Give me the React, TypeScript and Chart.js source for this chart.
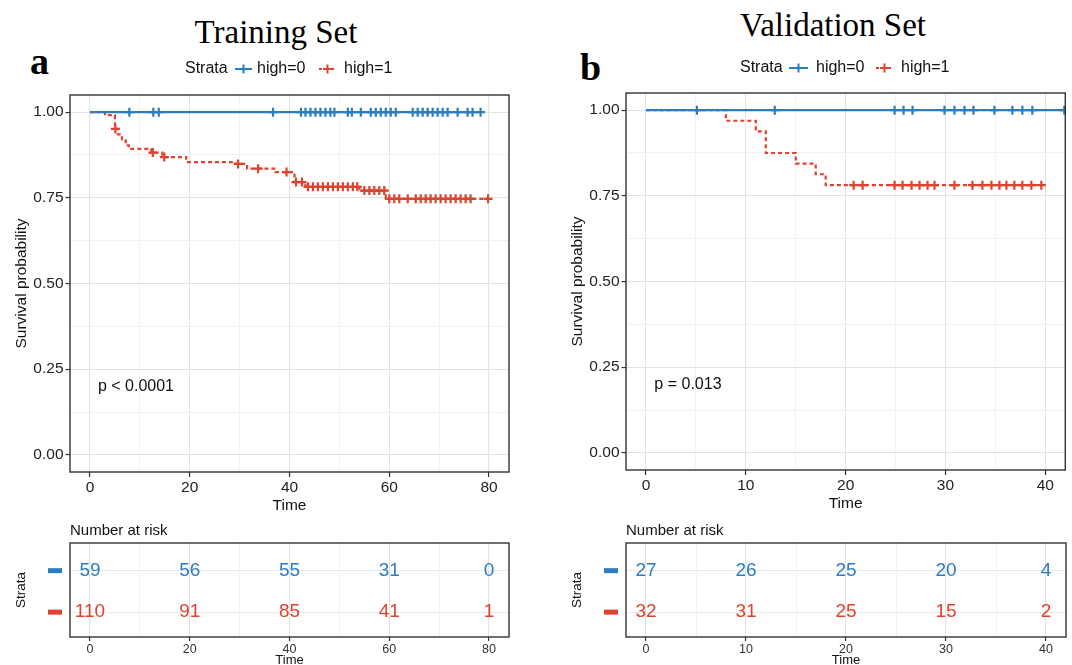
import React, { useEffect, useRef } from 'react';
import { Chart, registerables } from 'chart.js';

Chart.register(...registerables);

const BLUE = '#2C7CC0';
const RED = '#DD432E';
const FONT = "'Liberation Sans', Arial, sans-serif";

// ---------- axis ticks ----------
const survTicks = [0, 0.25, 0.5, 0.75, 1];
const survMinorTicks = [0.125, 0.375, 0.625, 0.875];
const trainTimeTicks = [0, 20, 40, 60, 80];
const trainTimeMinor = [10, 30, 50, 70];
const validTimeTicks = [0, 10, 20, 30, 40];
const validTimeMinor = [5, 15, 25, 35];

// ---------- Training set: Kaplan-Meier ----------
const trainHigh0StepTimes = [0];
const trainHigh0StepSurv = [1];
const trainHigh0End = 78.3;
const trainHigh0Censor = [7.9, 12.7, 13.8, 36.7, 42.3, 43.2, 44.2, 45.2, 46.2, 47.2, 48.2, 49.0, 51.7, 52.5, 54.3, 56.3, 57.3, 58.3, 59.3, 60.3, 61.3, 64.7, 65.7, 66.7, 67.7, 68.7, 69.7, 70.7, 71.7, 73.7, 75.7, 76.7, 78.3];

const trainHigh1StepTimes = [0, 3.0, 5.0, 5.6, 6.4, 7.2, 7.8, 12.3, 14.5, 19.3, 29.2, 31.5, 37.2, 41.0, 43.2, 54.0, 59.3];
const trainHigh1StepSurv = [1, 0.991, 0.951, 0.935, 0.917, 0.903, 0.893, 0.882, 0.869, 0.854, 0.849, 0.835, 0.825, 0.796, 0.782, 0.771, 0.747];
const trainHigh1End = 79.8;
const trainHigh1Censor = [5.1, 12.6, 14.9, 29.7, 33.7, 39.4, 41.3, 42.5, 43.7, 44.7, 45.7, 46.7, 47.7, 48.7, 49.7, 50.7, 51.7, 52.7, 53.6, 55, 56, 57, 58, 59, 60, 61, 62, 63.7, 65.3, 66.3, 67.3, 68.3, 69.3, 70.3, 71.3, 72.3, 73.3, 74.3, 75.3, 76.3, 79.8];

// ---------- Validation set: Kaplan-Meier ----------
const validHigh0StepTimes = [0];
const validHigh0StepSurv = [1];
const validHigh0End = 42;
const validHigh0Censor = [5.1, 12.9, 24.9, 25.8, 26.7, 29.9, 30.9, 31.9, 32.8, 34.9, 36.7, 37.7, 38.7, 41.9];

const validHigh1StepTimes = [0, 8, 11, 12, 15, 17, 18];
const validHigh1StepSurv = [1, 0.969, 0.938, 0.875, 0.844, 0.813, 0.781];
const validHigh1End = 39.6;
const validHigh1Censor = [20.8, 21.7, 24.9, 25.7, 26.6, 27.4, 28.2, 28.9, 30.9, 32.7, 33.7, 34.6, 35.4, 36.1, 36.9, 37.7, 38.6, 39.6];

// ---------- Number at risk ----------
const trainRiskTimes = [0, 20, 40, 60, 80];
const trainRiskHigh0 = [59, 56, 55, 31, 0];
const trainRiskHigh1 = [110, 91, 85, 41, 1];
const validRiskTimes = [0, 10, 20, 30, 40];
const validRiskHigh0 = [27, 26, 25, 20, 4];
const validRiskHigh1 = [32, 31, 25, 15, 2];

// ---------- helpers ----------
function stepLine(times: number[], surv: number[], end: number) {
  const pts = times.map((t, i) => ({ x: t, y: surv[i] }));
  pts.push({ x: end, y: surv[surv.length - 1] });
  return pts;
}
function censorMarks(censor: number[], times: number[], surv: number[]) {
  return censor.map((t) => {
    let s = surv[0];
    for (let i = 0; i < times.length; i++) if (times[i] <= t) s = surv[i];
    return { x: t, y: s };
  });
}
function isIn(arr: number[], v: number) {
  return arr.some((a) => Math.abs(a - v) < 1e-9);
}
function gridOpts(majors: number[]) {
  return {
    color: (c: any) => (c.tick && isIn(majors, c.tick.value) ? '#e2e2e2' : '#efefef'),
    lineWidth: (c: any) => (c.tick && isIn(majors, c.tick.value) ? 1.1 : 0.8),
    tickColor: (c: any) => (c.tick && isIn(majors, c.tick.value) ? '#333' : 'rgba(0,0,0,0)'),
    tickLength: 5,
    tickWidth: 1.2,
  };
}
function drawCross(ctx: CanvasRenderingContext2D, x: number, y: number, r: number, color: string) {
  ctx.save();
  ctx.strokeStyle = color;
  ctx.lineWidth = 2;
  ctx.setLineDash([]);
  ctx.beginPath();
  ctx.moveTo(x - r, y);
  ctx.lineTo(x + r, y);
  ctx.moveTo(x, y - r);
  ctx.lineTo(x, y + r);
  ctx.stroke();
  ctx.restore();
}

type KMParams = {
  h0: { times: number[]; surv: number[]; end: number; censor: number[] };
  h1: { times: number[]; surv: number[]; end: number; censor: number[] };
  majors: number[];
  minors: number[];
  xMin: number;
  xMax: number;
  padTop: number;
  padRight: number;
  pText: string;
  pX: number;
  legendY: number;
  legendX: { strata: number; k0: [number, number]; t0: number; k1: [number, number]; t1: number };
};

function kmConfig(p: KMParams): any {
  const decor = {
    id: 'kmDecor',
    afterDatasetsDraw(chart: any) {
      const { ctx, chartArea: a, scales } = chart;
      ctx.save();
      ctx.strokeStyle = '#333';
      ctx.lineWidth = 1.4;
      ctx.strokeRect(a.left, a.top, a.right - a.left, a.bottom - a.top);
      ctx.fillStyle = '#111';
      ctx.font = `16px ${FONT}`;
      ctx.textBaseline = 'middle';
      ctx.textAlign = 'left';
      ctx.fillText(p.pText, scales.x.getPixelForValue(p.pX), scales.y.getPixelForValue(0.2));
      // legend
      const ly = p.legendY;
      const L = p.legendX;
      ctx.fillText('Strata', L.strata, ly);
      ctx.fillText('high=0', L.t0, ly);
      ctx.fillText('high=1', L.t1, ly);
      ctx.lineWidth = 2;
      ctx.strokeStyle = BLUE;
      ctx.beginPath();
      ctx.moveTo(L.k0[0], ly);
      ctx.lineTo(L.k0[1], ly);
      ctx.stroke();
      drawCross(ctx, (L.k0[0] + L.k0[1]) / 2, ly, 4.5, BLUE);
      ctx.strokeStyle = RED;
      ctx.setLineDash([3, 3]);
      ctx.beginPath();
      ctx.moveTo(L.k1[0], ly);
      ctx.lineTo(L.k1[1], ly);
      ctx.stroke();
      ctx.setLineDash([]);
      drawCross(ctx, (L.k1[0] + L.k1[1]) / 2, ly, 4.5, RED);
      ctx.restore();
    },
  };
  const xTicks = [...p.majors, ...p.minors].sort((a, b) => a - b);
  const yTicks = [...survTicks, ...survMinorTicks].sort((a, b) => a - b);
  return {
    type: 'line',
    data: {
      datasets: [
        {
          label: 'high=0',
          data: stepLine(p.h0.times, p.h0.surv, p.h0.end),
          borderColor: BLUE,
          borderWidth: 2.2,
          stepped: true,
          pointRadius: 0,
          fill: false,
        },
        {
          label: 'high=1',
          data: stepLine(p.h1.times, p.h1.surv, p.h1.end),
          borderColor: RED,
          borderWidth: 2.2,
          borderDash: [4, 3],
          stepped: true,
          pointRadius: 0,
          fill: false,
        },
        {
          label: 'censor0',
          data: censorMarks(p.h0.censor, p.h0.times, p.h0.surv),
          showLine: false,
          pointStyle: 'cross',
          pointRadius: 4.5,
          pointBorderWidth: 2.2,
          borderColor: BLUE,
          backgroundColor: BLUE,
        },
        {
          label: 'censor1',
          data: censorMarks(p.h1.censor, p.h1.times, p.h1.surv),
          showLine: false,
          pointStyle: 'cross',
          pointRadius: 4.5,
          pointBorderWidth: 2.2,
          borderColor: RED,
          backgroundColor: RED,
        },
      ],
    },
    options: {
      animation: false,
      responsive: false,
      maintainAspectRatio: false,
      events: [],
      layout: { padding: { top: p.padTop, right: p.padRight, left: 0, bottom: 0 } },
      plugins: { legend: { display: false }, tooltip: { enabled: false } },
      scales: {
        x: {
          type: 'linear',
          min: p.xMin,
          max: p.xMax,
          afterBuildTicks: (s: any) => {
            s.ticks = xTicks.map((v) => ({ value: v }));
          },
          afterFit: (s: any) => {
            s.height = 43;
          },
          grid: gridOpts(p.majors),
          border: { display: false },
          ticks: {
            autoSkip: false,
            maxRotation: 0,
            padding: 1,
            color: '#222',
            font: { family: FONT, size: 15.5 },
            callback: (v: number) => (isIn(p.majors, v) ? String(v) : ''),
          },
          title: {
            display: true,
            text: 'Time',
            color: '#111',
            font: { family: FONT, size: 15.5 },
            padding: { top: 0, bottom: 0 },
          },
        },
        y: {
          type: 'linear',
          min: -0.05,
          max: 1.05,
          afterBuildTicks: (s: any) => {
            s.ticks = yTicks.map((v) => ({ value: v }));
          },
          afterFit: (s: any) => {
            s.width = 70;
          },
          grid: { ...gridOpts(survTicks), tickLength: 4.5 },
          border: { display: false },
          ticks: {
            autoSkip: false,
            padding: 2,
            color: '#222',
            font: { family: FONT, size: 15.5 },
            callback: (v: number) => (isIn(survTicks, v) ? v.toFixed(2) : ''),
          },
          title: {
            display: true,
            text: 'Survival probability',
            color: '#111',
            font: { family: FONT, size: 15.5 },
            padding: { top: 12.7, bottom: 0 },
          },
        },
      },
    },
    plugins: [decor],
  };
}

type RiskParams = {
  times: number[];
  high0: number[];
  high1: number[];
  majors: number[];
  minors: number[];
  xMin: number;
  xMax: number;
  padRight: number;
};

function riskConfig(p: RiskParams): any {
  const decor = {
    id: 'riskDecor',
    afterDatasetsDraw(chart: any) {
      const { ctx, chartArea: a, scales } = chart;
      ctx.save();
      ctx.strokeStyle = '#333';
      ctx.lineWidth = 1.4;
      ctx.strokeRect(a.left, a.top, a.right - a.left, a.bottom - a.top);
      ctx.textBaseline = 'middle';
      ctx.textAlign = 'center';
      ctx.font = `19px ${FONT}`;
      const rows: [number[], number, string][] = [
        [p.high0, 2, BLUE],
        [p.high1, 1, RED],
      ];
      rows.forEach(([vals, row, col]) => {
        ctx.fillStyle = col;
        const yPix = scales.y.getPixelForValue(row);
        vals.forEach((v, i) => {
          ctx.fillText(String(v), scales.x.getPixelForValue(p.times[i]), yPix);
        });
        ctx.fillRect(48, yPix - 2.5, 14, 5);
      });
      ctx.fillStyle = '#111';
      ctx.textAlign = 'left';
      ctx.font = `15px ${FONT}`;
      ctx.fillText('Number at risk', a.left, 15.5);
      ctx.restore();
    },
  };
  const xTicks = [...p.majors, ...p.minors].sort((a, b) => a - b);
  return {
    type: 'scatter',
    data: {
      datasets: [
        { label: 'high=0', data: p.times.map((t) => ({ x: t, y: 2 })), pointRadius: 0 },
        { label: 'high=1', data: p.times.map((t) => ({ x: t, y: 1 })), pointRadius: 0 },
      ],
    },
    options: {
      animation: false,
      responsive: false,
      maintainAspectRatio: false,
      events: [],
      layout: { padding: { top: 28, right: p.padRight, left: 0, bottom: 0 } },
      plugins: { legend: { display: false }, tooltip: { enabled: false } },
      scales: {
        x: {
          type: 'linear',
          min: p.xMin,
          max: p.xMax,
          afterBuildTicks: (s: any) => {
            s.ticks = xTicks.map((v) => ({ value: v }));
          },
          afterFit: (s: any) => {
            s.height = 31;
          },
          grid: { ...gridOpts(p.majors), tickLength: 4 },
          border: { display: false },
          ticks: {
            autoSkip: false,
            maxRotation: 0,
            padding: 1.5,
            color: '#333',
            font: { family: FONT, size: 12.5 },
            callback: (v: number) => (isIn(p.majors, v) ? String(v) : ''),
          },
          title: {
            display: true,
            text: 'Time',
            color: '#111',
            font: { family: FONT, size: 13 },
            padding: { top: 0, bottom: 0 },
          },
        },
        y: {
          type: 'linear',
          min: 0.4,
          max: 2.667,
          afterBuildTicks: (s: any) => {
            s.ticks = [1, 2].map((v) => ({ value: v }));
          },
          afterFit: (s: any) => {
            s.width = 70;
          },
          grid: { color: '#e8e8e8', lineWidth: 1, tickColor: 'rgba(0,0,0,0)', tickLength: 4 },
          border: { display: false },
          ticks: { callback: () => '' },
          title: {
            display: true,
            text: 'Strata',
            color: '#111',
            font: { family: FONT, size: 13.5 },
            padding: { top: 13, bottom: 0 },
          },
        },
      },
    },
    plugins: [decor],
  };
}

function ChartCanvas(props: { left: number; top: number; width: number; height: number; config: () => any }) {
  const ref = useRef<HTMLCanvasElement | null>(null);
  useEffect(() => {
    if (!ref.current) return;
    const chart = new Chart(ref.current, props.config());
    return () => chart.destroy();
  }, []);
  return (
    <canvas
      ref={ref}
      width={props.width}
      height={props.height}
      style={{ position: 'absolute', left: props.left, top: props.top, width: props.width, height: props.height }}
    />
  );
}

const serif = "'Liberation Serif', 'Times New Roman', serif";

export default function App() {
  return (
    <div
      style={{
        position: 'fixed',
        left: 0,
        top: 0,
        width: 1072,
        height: 665,
        overflow: 'hidden',
        background: '#ffffff',
      }}
    >
      <div style={{ position: 'absolute', left: 76, top: 16, width: 400, textAlign: 'center', fontFamily: serif, fontSize: 33, lineHeight: '33px', whiteSpace: 'nowrap', color: '#000' }}>
        Training Set
      </div>
      <div style={{ position: 'absolute', left: 633, top: 9, width: 400, textAlign: 'center', fontFamily: serif, fontSize: 33, lineHeight: '33px', whiteSpace: 'nowrap', color: '#000' }}>
        Validation Set
      </div>
      <div style={{ position: 'absolute', left: 30, top: 42, fontFamily: serif, fontWeight: 'bold', fontSize: 38, lineHeight: '38px', color: '#000' }}>
        a
      </div>
      <div style={{ position: 'absolute', left: 580, top: 48, fontFamily: serif, fontWeight: 'bold', fontSize: 38, lineHeight: '38px', color: '#000' }}>
        b
      </div>

      <ChartCanvas
        left={0}
        top={0}
        width={536}
        height={515}
        config={() =>
          kmConfig({
            h0: { times: trainHigh0StepTimes, surv: trainHigh0StepSurv, end: trainHigh0End, censor: trainHigh0Censor },
            h1: { times: trainHigh1StepTimes, surv: trainHigh1StepSurv, end: trainHigh1End, censor: trainHigh1Censor },
            majors: trainTimeTicks,
            minors: trainTimeMinor,
            xMin: -4,
            xMax: 84,
            padTop: 95,
            padRight: 27,
            pText: 'p < 0.0001',
            pX: 1.6,
            legendY: 69,
            legendX: { strata: 185, k0: [235, 252], t0: 257, k1: [319, 336], t1: 344 },
          })
        }
      />
      <ChartCanvas
        left={556}
        top={0}
        width={516}
        height={513}
        config={() =>
          kmConfig({
            h0: { times: validHigh0StepTimes, surv: validHigh0StepSurv, end: validHigh0End, censor: validHigh0Censor },
            h1: { times: validHigh1StepTimes, surv: validHigh1StepSurv, end: validHigh1End, censor: validHigh1Censor },
            majors: validTimeTicks,
            minors: validTimeMinor,
            xMin: -2,
            xMax: 42,
            padTop: 93,
            padRight: 6,
            pText: 'p = 0.013',
            pX: 0.84,
            legendY: 68,
            legendX: { strata: 184, k0: [233, 252], t0: 260, k1: [320, 337], t1: 345 },
          })
        }
      />
      <ChartCanvas
        left={0}
        top={515}
        width={536}
        height={153}
        config={() =>
          riskConfig({
            times: trainRiskTimes,
            high0: trainRiskHigh0,
            high1: trainRiskHigh1,
            majors: trainTimeTicks,
            minors: trainTimeMinor,
            xMin: -4,
            xMax: 84,
            padRight: 27,
          })
        }
      />
      <ChartCanvas
        left={556}
        top={515}
        width={516}
        height={153}
        config={() =>
          riskConfig({
            times: validRiskTimes,
            high0: validRiskHigh0,
            high1: validRiskHigh1,
            majors: validTimeTicks,
            minors: validTimeMinor,
            xMin: -2,
            xMax: 42,
            padRight: 6,
          })
        }
      />
    </div>
  );
}
